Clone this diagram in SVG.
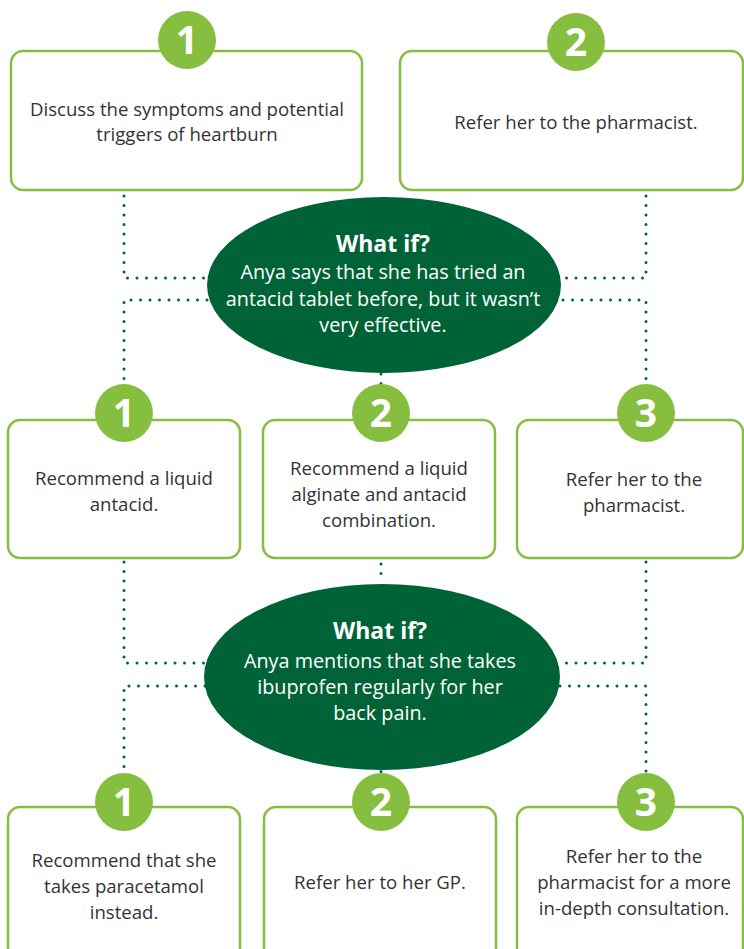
<svg xmlns="http://www.w3.org/2000/svg" width="744" height="949" viewBox="0 0 744 949">
<style>
.box{fill:#fff;stroke:#86bf40;stroke-width:2.5}
.badge{fill:#86bf40}
.num{font-family:"Open Sans","Liberation Sans",sans-serif;font-weight:700;font-size:39px;fill:#fff;text-anchor:middle}
.t{font-family:"Open Sans","Liberation Sans",sans-serif;font-size:18.6px;fill:#333;text-anchor:middle}
.ell{fill:#006338}
.wh{font-family:"Open Sans","Liberation Sans",sans-serif;font-size:19.8px;fill:#fff;text-anchor:middle}
.whb{font-family:"Open Sans","Liberation Sans",sans-serif;font-size:23px;font-weight:700;fill:#fff;text-anchor:middle}
.dot{fill:none;stroke:#006338;stroke-width:3;stroke-linecap:round;stroke-dasharray:0 9.5}
</style>
<g id="connectors">
<path class="dot" d="M124 196 V278 H207"/>
<path class="dot" d="M207 300 H124 V384"/>
<path class="dot" d="M646 196 V278 H563"/>
<path class="dot" d="M563 300 H646 V384"/>
<path class="dot" d="M381 374 V384"/>
<path class="dot" d="M124 562 V663 H205"/>
<path class="dot" d="M205 686 H124 V772"/>
<path class="dot" d="M646 562 V663 H560"/>
<path class="dot" d="M560 686 H646 V772"/>
<path class="dot" d="M381 564 V582"/>
<path class="dot" d="M381 762 V774"/>
</g>
<g id="top1">
<rect class="box" x="11" y="51" width="351" height="139" rx="12"/>
<circle class="badge" cx="187" cy="40" r="29"/>
<text class="num" x="187" y="54">1</text>
<text class="t" x="187" y="116">Discuss the symptoms and potential</text>
<text class="t" x="187" y="141">triggers of heartburn</text>
</g>
<g id="top2">
<rect class="box" x="400" y="51" width="343" height="139" rx="12"/>
<circle class="badge" cx="576" cy="42" r="29"/>
<text class="num" x="576" y="56">2</text>
<text class="t" x="576" y="129">Refer her to the pharmacist.</text>
</g>
<g id="whatif1">
<ellipse class="ell" cx="384" cy="285" rx="177" ry="88"/>
<text class="whb" x="383" y="252">What if?</text>
<text class="wh" x="383" y="279">Anya says that she has tried an</text>
<text class="wh" x="383" y="306">antacid tablet before, but it wasn’t</text>
<text class="wh" x="383" y="332">very effective.</text>
</g>
<g id="mid1">
<rect class="box" x="8" y="420" width="232" height="138" rx="12"/>
<circle class="badge" cx="124" cy="413" r="29"/>
<text class="num" x="124" y="427">1</text>
<text class="t" x="124" y="485">Recommend a liquid</text>
<text class="t" x="124" y="511">antacid.</text>
</g>
<g id="mid2">
<rect class="box" x="263" y="420" width="232" height="138" rx="12"/>
<circle class="badge" cx="381" cy="413" r="29"/>
<text class="num" x="381" y="427">2</text>
<text class="t" x="379" y="475">Recommend a liquid</text>
<text class="t" x="379" y="501">alginate and antacid</text>
<text class="t" x="379" y="527">combination.</text>
</g>
<g id="mid3">
<rect class="box" x="517" y="420" width="226" height="138" rx="12"/>
<circle class="badge" cx="646" cy="413" r="29"/>
<text class="num" x="646" y="427">3</text>
<text class="t" x="634" y="486">Refer her to the</text>
<text class="t" x="634" y="512">pharmacist.</text>
</g>
<g id="whatif2">
<ellipse class="ell" cx="382" cy="677" rx="178" ry="93"/>
<text class="whb" x="380" y="639">What if?</text>
<text class="wh" x="380" y="668">Anya mentions that she takes</text>
<text class="wh" x="380" y="694">ibuprofen regularly for her</text>
<text class="wh" x="380" y="720">back pain.</text>
</g>
<g id="bot1">
<rect class="box" x="8" y="807" width="232" height="160" rx="12"/>
<circle class="badge" cx="124" cy="802" r="29"/>
<text class="num" x="124" y="816">1</text>
<text class="t" x="124" y="867">Recommend that she</text>
<text class="t" x="124" y="893">takes paracetamol</text>
<text class="t" x="124" y="919">instead.</text>
</g>
<g id="bot2">
<rect class="box" x="264" y="807" width="232" height="160" rx="12"/>
<circle class="badge" cx="381" cy="802" r="29"/>
<text class="num" x="381" y="816">2</text>
<text class="t" x="380" y="889">Refer her to her GP.</text>
</g>
<g id="bot3">
<rect class="box" x="517" y="807" width="226" height="160" rx="12"/>
<circle class="badge" cx="646" cy="802" r="29"/>
<text class="num" x="646" y="816">3</text>
<text class="t" x="634" y="863">Refer her to the</text>
<text class="t" x="634" y="889">pharmacist for a more</text>
<text class="t" x="634" y="915">in-depth consultation.</text>
</g>
</svg>
